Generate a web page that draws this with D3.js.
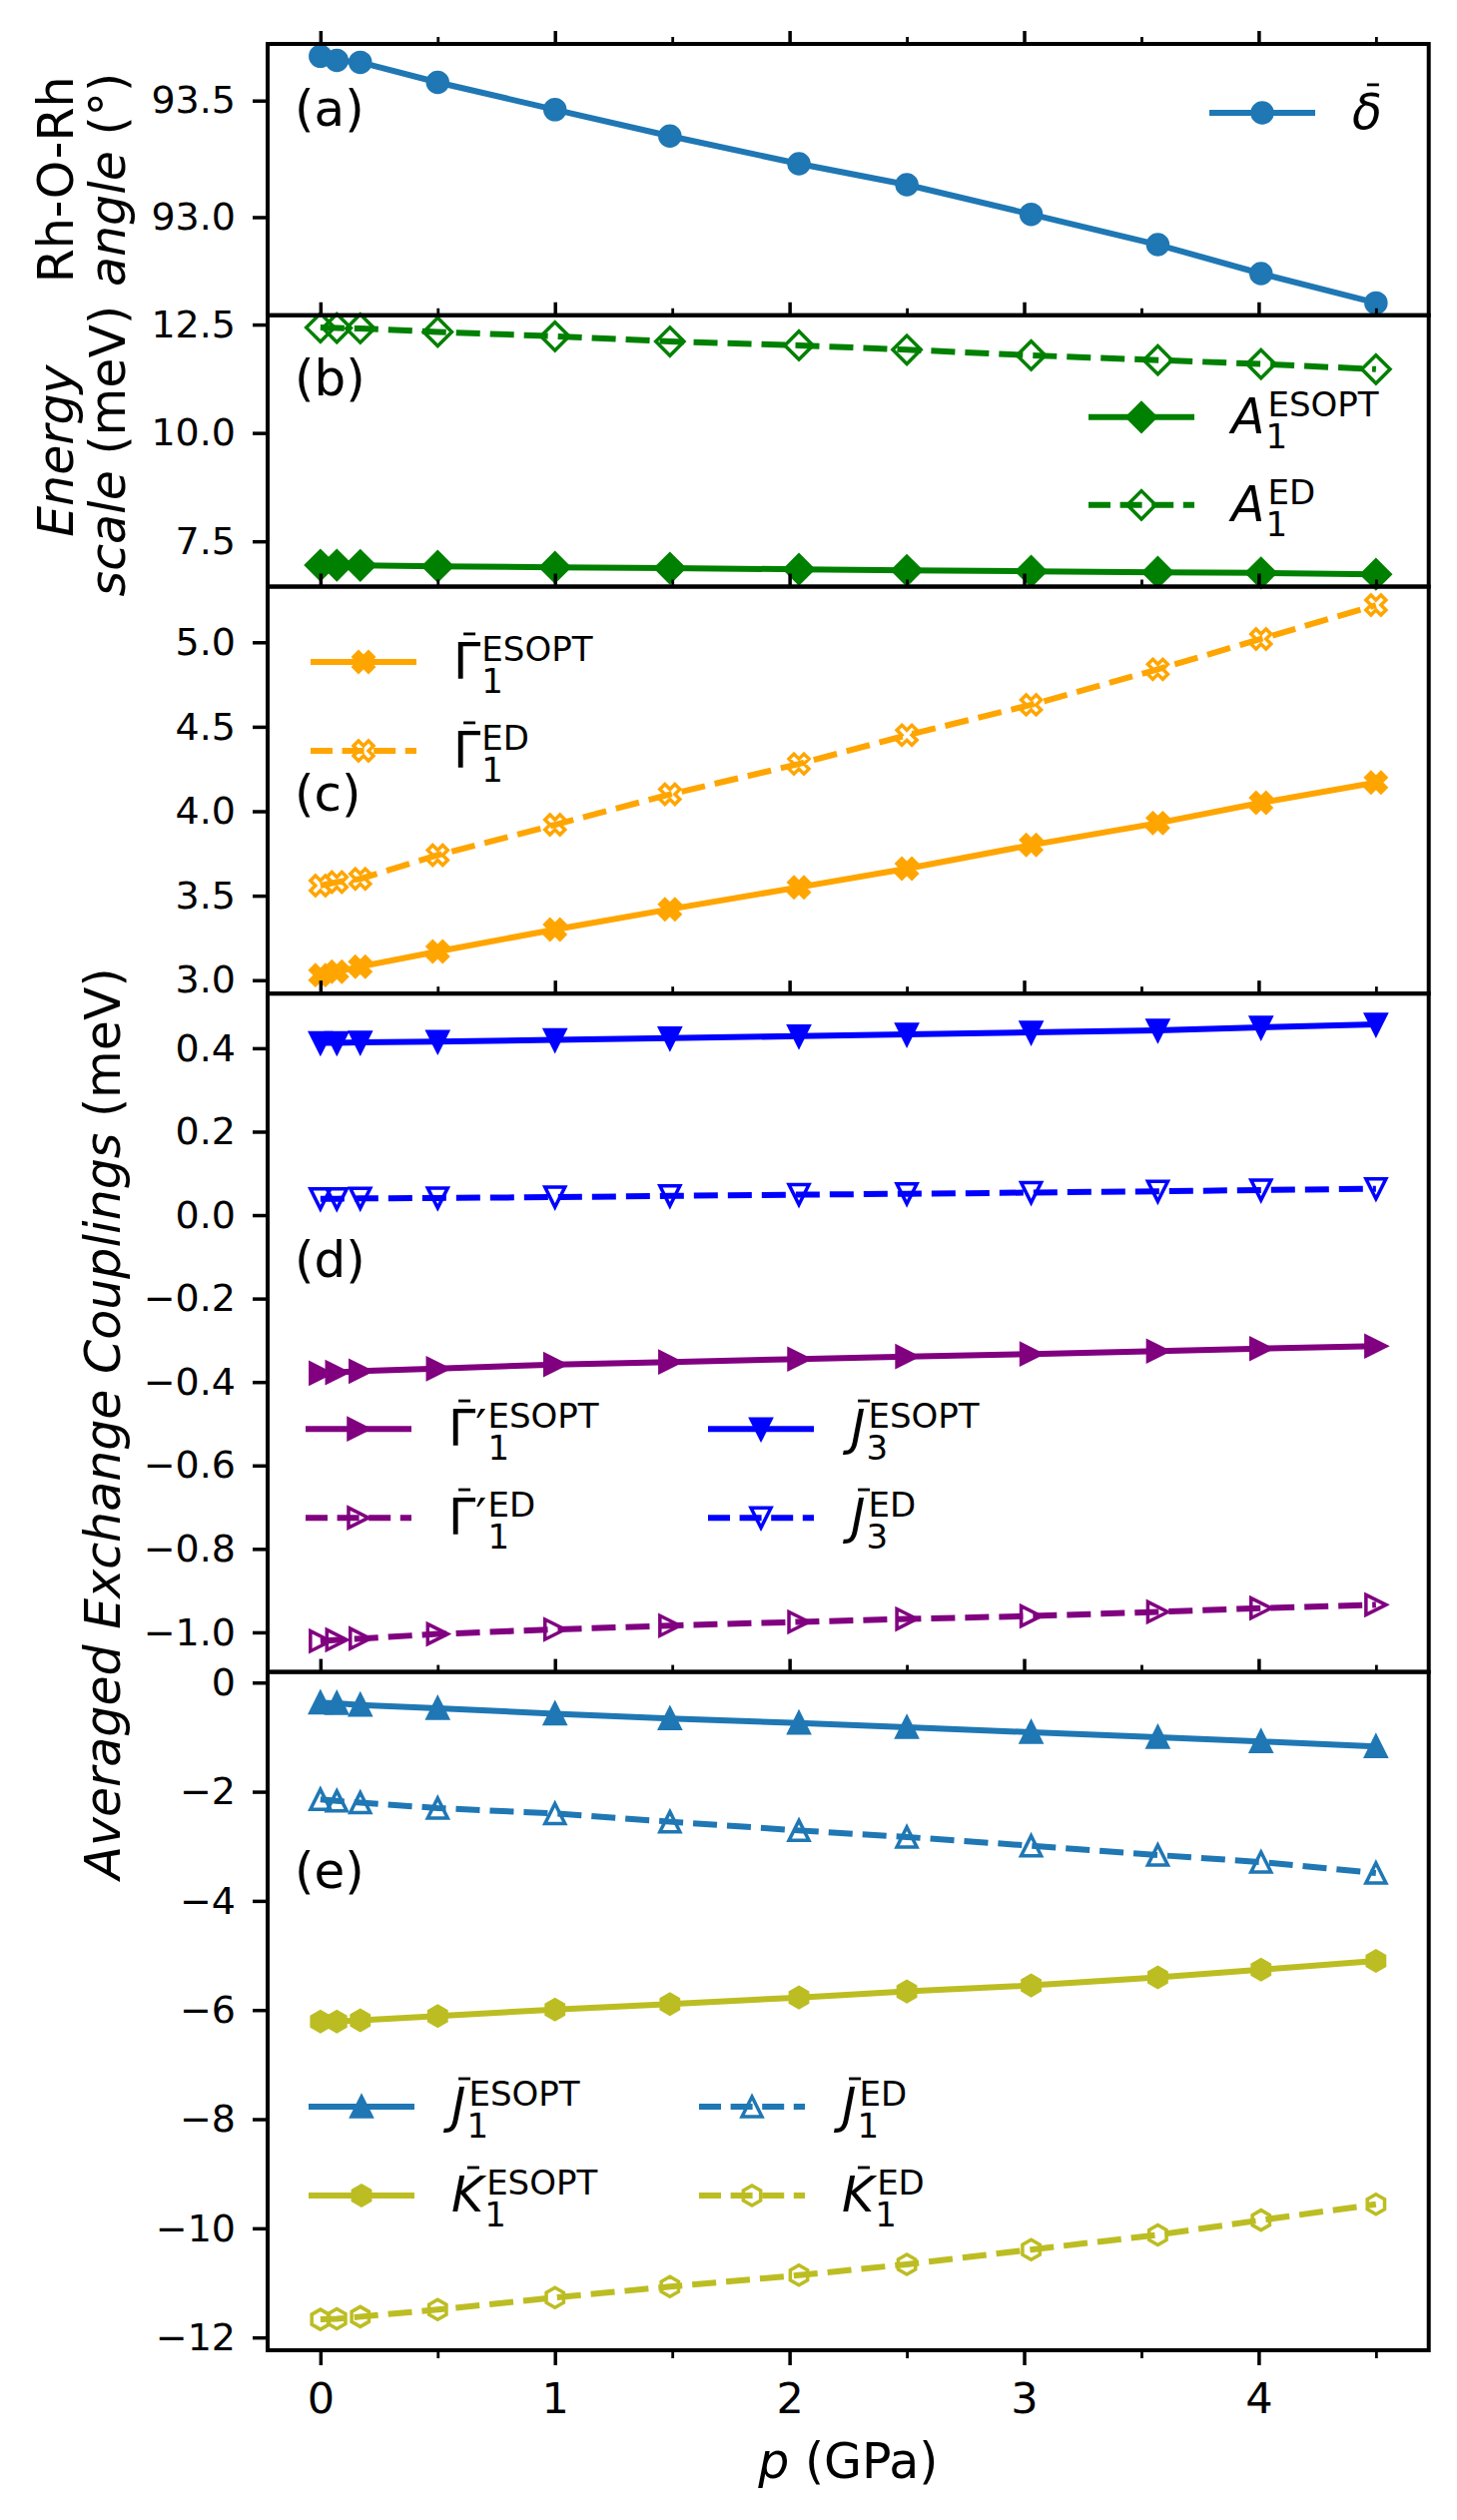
<!DOCTYPE html>
<html>
<head>
<meta charset="utf-8">
<script src="https://cdn.jsdelivr.net/npm/d3@7"></script>
<style>
  body { margin: 0; background: #fff; }
  svg text { font-family: "DejaVu Sans", sans-serif; fill: #000; }
</style>
</head>
<body>
<div id="chart"></div>
<script>
// pressure points (GPa)
const pressure = [0, 0.07, 0.17, 0.5, 1.0, 1.49, 2.04, 2.5, 3.03, 3.57, 4.01, 4.5];

// (a) Rh-O-Rh angle
const deltaBar = [93.690, 93.672, 93.664, 93.578, 93.461, 93.348, 93.229, 93.139, 93.012, 92.882, 92.758, 92.632];

// (b) energy scale
const a1Esopt = [6.95, 6.95, 6.945, 6.925, 6.90, 6.88, 6.855, 6.83, 6.81, 6.785, 6.77, 6.74];
const a1Ed = [12.43, 12.42, 12.41, 12.33, 12.23, 12.11, 12.02, 11.92, 11.79, 11.68, 11.59, 11.47];

// (c)
const gamma1Esopt = [3.03, 3.05, 3.08, 3.17, 3.30, 3.42, 3.55, 3.66, 3.80, 3.93, 4.05, 4.17];
const gamma1Ed = [3.56, 3.58, 3.60, 3.74, 3.92, 4.10, 4.28, 4.45, 4.63, 4.84, 5.02, 5.22];

// (d)
const gammaP1Esopt = [-0.379, -0.377, -0.374, -0.368, -0.358, -0.352, -0.345, -0.339, -0.333, -0.326, -0.320, -0.314];
const gammaP1Ed = [-1.021, -1.018, -1.015, -1.004, -0.993, -0.984, -0.975, -0.968, -0.961, -0.951, -0.942, -0.934];
const j3Esopt = [0.413, 0.413, 0.414, 0.416, 0.420, 0.424, 0.429, 0.433, 0.438, 0.443, 0.450, 0.457];
const j3Ed = [0.039, 0.039, 0.040, 0.041, 0.043, 0.046, 0.049, 0.051, 0.054, 0.057, 0.060, 0.063];

// (e)
const j1Esopt = [-0.37, -0.38, -0.41, -0.47, -0.57, -0.66, -0.74, -0.82, -0.91, -1.00, -1.08, -1.17];
const j1Ed = [-2.14, -2.17, -2.20, -2.30, -2.40, -2.55, -2.71, -2.83, -2.99, -3.16, -3.29, -3.49];
const k1Esopt = [-6.21, -6.21, -6.19, -6.11, -5.99, -5.89, -5.77, -5.66, -5.55, -5.40, -5.26, -5.10];
const k1Ed = [-11.67, -11.66, -11.62, -11.49, -11.27, -11.07, -10.86, -10.66, -10.39, -10.12, -9.85, -9.56];

// ticks
const xTicks = [0, 1, 2, 3, 4];
const xMinorTicks = [0.5, 1.5, 2.5, 3.5, 4.5];
const yTicksA = [93.0, 93.5];
const yTicksB = [7.5, 10.0, 12.5];
const yTicksC = [3.0, 3.5, 4.0, 4.5, 5.0];
const yTicksD = [-1.0, -0.8, -0.6, -0.4, -0.2, 0.0, 0.2, 0.4];
const yTicksE = [-12, -10, -8, -6, -4, -2, 0];

const W = 1459, H = 2524;
const plotLeft = 268, plotRight = 1430.7, plotTop = 44, plotBottom = 2354;
const ratios = [2, 2, 3, 5, 5];
const unit = (plotBottom - plotTop) / d3.sum(ratios);

const FS = 49, FS_SCRIPT = 34, FS_YTICK = 38, FS_XTICK = 43;
const LW = 6, MS = 20, MEW = 3.5;
const DASH = "24,10";

const col = {
  tabBlue: "#1f77b4", green: "#008000", orange: "#ffa500",
  blue: "#0000ff", purple: "#800080", olive: "#bcbd22"
};

function pad(ext) {
  const r = ext[1] - ext[0];
  return [ext[0] - 0.05 * r, ext[1] + 0.05 * r];
}

const panels = [
  {
    tag: "(a)", tagDy: 82, ticks: yTicksA, fmt: d3.format(".1f"),
    series: [
      { key: "delta", values: deltaBar, color: col.tabBlue, marker: "o", filled: true, dashed: false,
        label: { base: "δ", italic: true, bar: true } }
    ],
    legend: [{ x1: 1211, rows: [69], keys: ["delta"] }]
  },
  {
    tag: "(b)", tagDy: 80, ticks: yTicksB, fmt: d3.format(".1f"),
    series: [
      { key: "aes", values: a1Esopt, color: col.green, marker: "D", filled: true, dashed: false,
        label: { base: "A", italic: true, sub: "1", sup: "ESOPT" } },
      { key: "aed", values: a1Ed, color: col.green, marker: "D", filled: false, dashed: true,
        label: { base: "A", italic: true, sub: "1", sup: "ED" } }
    ],
    legend: [{ x1: 1090, rows: [102, 190], keys: ["aes", "aed"] }]
  },
  {
    tag: "(c)", tagDy: 224, ticks: yTicksC, fmt: d3.format(".1f"),
    series: [
      { key: "ges", values: gamma1Esopt, color: col.orange, marker: "X", filled: true, dashed: false,
        label: { base: "Γ", bar: true, sub: "1", sup: "ESOPT" } },
      { key: "ged", values: gamma1Ed, color: col.orange, marker: "X", filled: false, dashed: true,
        label: { base: "Γ", bar: true, sub: "1", sup: "ED" } }
    ],
    legend: [{ x1: 311, rows: [75.5, 164.5], keys: ["ges", "ged"] }]
  },
  {
    tag: "(d)", tagDy: 283.5, ticks: yTicksD, fmt: d3.format(".1f"),
    series: [
      { key: "gpes", values: gammaP1Esopt, color: col.purple, marker: ">", filled: true, dashed: false,
        label: { base: "Γ", bar: true, prime: true, sub: "1", sup: "ESOPT" } },
      { key: "gped", values: gammaP1Ed, color: col.purple, marker: ">", filled: false, dashed: true,
        label: { base: "Γ", bar: true, prime: true, sub: "1", sup: "ED" } },
      { key: "j3es", values: j3Esopt, color: col.blue, marker: "v", filled: true, dashed: false,
        label: { base: "J", italic: true, bar: true, sub: "3", sup: "ESOPT" } },
      { key: "j3ed", values: j3Ed, color: col.blue, marker: "v", filled: false, dashed: true,
        label: { base: "J", italic: true, bar: true, sub: "3", sup: "ED" } }
    ],
    legend: [
      { x1: 306, rows: [436, 525], keys: ["gpes", "gped"] },
      { x1: 709, rows: [436, 525], keys: ["j3es", "j3ed"] }
    ]
  },
  {
    tag: "(e)", tagDy: 216.5, ticks: yTicksE, fmt: d3.format("d"),
    series: [
      { key: "j1es", values: j1Esopt, color: col.tabBlue, marker: "^", filled: true, dashed: false,
        label: { base: "J", italic: true, bar: true, sub: "1", sup: "ESOPT" } },
      { key: "k1es", values: k1Esopt, color: col.olive, marker: "h", filled: true, dashed: false,
        label: { base: "K", italic: true, bar: true, sub: "1", sup: "ESOPT" } },
      { key: "j1ed", values: j1Ed, color: col.tabBlue, marker: "^", filled: false, dashed: true,
        label: { base: "J", italic: true, bar: true, sub: "1", sup: "ED" } },
      { key: "k1ed", values: k1Ed, color: col.olive, marker: "h", filled: false, dashed: true,
        label: { base: "K", italic: true, bar: true, sub: "1", sup: "ED" } }
    ],
    legend: [
      { x1: 309, rows: [435.5, 524.5], keys: ["j1es", "k1es"] },
      { x1: 700, rows: [435.5, 524.5], keys: ["j1ed", "k1ed"] }
    ]
  }
];

function markerPath(type, s) {
  const h = s / 2;
  if (type === "o") return `M${h},0A${h},${h} 0 1,1 ${-h},0A${h},${h} 0 1,1 ${h},0Z`;
  if (type === "D") { const d = s * Math.SQRT1_2; return `M0,${-d}L${d},0L0,${d}L${-d},0Z`; }
  if (type === "^") return `M0,${-h}L${h},${h}L${-h},${h}Z`;
  if (type === "v") return `M0,${h}L${h},${-h}L${-h},${-h}Z`;
  if (type === ">") return `M${h},0L${-h},${h}L${-h},${-h}Z`;
  if (type === "h") {
    const pts = d3.range(6).map(k => {
      const a = -Math.PI / 2 + k * Math.PI / 3;
      return [h * Math.cos(a), h * Math.sin(a)];
    });
    return "M" + pts.map(p => p.join(",")).join("L") + "Z";
  }
  if (type === "X") {
    const u = s / 4;
    const pts = [[-1, -2], [0, -1], [1, -2], [2, -1], [1, 0], [2, 1], [1, 2], [0, 1], [-1, 2], [-2, 1], [-1, 0], [-2, -1]];
    return "M" + pts.map(p => [p[0] * u, p[1] * u].join(",")).join("L") + "Z";
  }
}

function drawMarker(g, s, cx, cy) {
  g.append("path")
    .attr("d", markerPath(s.marker, MS))
    .attr("transform", `translate(${cx},${cy})`)
    .attr("fill", s.filled ? s.color : "none")
    .attr("stroke", s.color)
    .attr("stroke-width", MEW)
    .attr("stroke-linejoin", "miter");
}

// base glyph with optional bar/prime and stacked sub/superscript, as one text element
function drawMathLabel(g, x0, y0, lab) {
  const t = g.append("text")
    .attr("x", x0).attr("y", y0)
    .style("font-size", FS + "px");
  const base = t.append("tspan")
    .style("font-style", lab.italic ? "italic" : "normal")
    .text(lab.base);
  const bw = base.node().getComputedTextLength();
  if (lab.bar) {
    const mid = x0 + bw / 2 + (lab.italic ? FS * 0.12 : FS * 0.05);
    g.append("line")
      .attr("x1", mid - 6).attr("x2", mid + 6)
      .attr("y1", y0 - FS * 0.9).attr("y2", y0 - FS * 0.9)
      .attr("stroke", "#000").attr("stroke-width", 2.8);
  }
  let cx = x0 + bw;
  if (lab.prime) {
    const p = t.append("tspan").text("′");
    cx += p.node().getComputedTextLength();
  }
  if (lab.sup) {
    t.append("tspan")
      .attr("x", cx + (lab.italic ? 3 : 1)).attr("dy", -17)
      .style("font-size", FS_SCRIPT + "px").text(lab.sup);
  }
  if (lab.sub) {
    t.append("tspan")
      .attr("x", cx + 1).attr("dy", lab.sup ? 32 : 15)
      .style("font-size", FS_SCRIPT + "px").text(lab.sub);
  }
}

const svg = d3.select("#chart").append("svg")
  .attr("width", W).attr("height", H)
  .attr("viewBox", `0 0 ${W} ${H}`);

svg.append("rect").attr("width", W).attr("height", H).attr("fill", "#fff");

const x = d3.scaleLinear().domain(pad(d3.extent(pressure))).range([plotLeft, plotRight]);

let yCursor = plotTop;
panels.forEach((p, i) => {
  const h = ratios[i] * unit;
  p.top = yCursor;
  p.bottom = yCursor + h;
  yCursor += h;

  const all = p.series.flatMap(s => s.values);
  const y = d3.scaleLinear().domain(pad(d3.extent(all))).range([p.bottom, p.top]);

  const g = svg.append("g");

  // series
  const line = d3.line().x(d => x(d[0])).y(d => y(d[1]));
  p.series.forEach(s => {
    const pts = pressure.map((pv, k) => [pv, s.values[k]]);
    g.append("path")
      .attr("d", line(pts))
      .attr("fill", "none")
      .attr("stroke", s.color)
      .attr("stroke-width", LW)
      .attr("stroke-dasharray", s.dashed ? DASH : null);
    pts.forEach(d => drawMarker(g, s, x(d[0]), y(d[1])));
  });

  // y axis
  const ya = svg.append("g")
    .attr("transform", `translate(${plotLeft},0)`)
    .call(d3.axisLeft(y).tickValues(p.ticks).tickFormat(p.fmt).tickSize(15).tickPadding(17));
  ya.select(".domain").remove();
  ya.selectAll(".tick line").attr("stroke", "#000").attr("stroke-width", 3.5);
  ya.selectAll(".tick text").style("font-size", FS_YTICK + "px").attr("fill", "#000")
    .style("font-family", '"DejaVu Sans", sans-serif');

  // top ticks pointing out
  const ta = svg.append("g").attr("transform", `translate(0,${p.top})`)
    .call(d3.axisTop(x).tickValues(xTicks).tickSize(13).tickFormat(""));
  ta.select(".domain").remove();
  ta.selectAll(".tick line").attr("stroke", "#000").attr("stroke-width", 3.5);
  const tm = svg.append("g").attr("transform", `translate(0,${p.top})`)
    .call(d3.axisTop(x).tickValues(xMinorTicks).tickSize(7).tickFormat(""));
  tm.select(".domain").remove();
  tm.selectAll(".tick line").attr("stroke", "#000").attr("stroke-width", 2.8);

  // panel tag
  svg.append("text")
    .attr("x", 295).attr("y", p.top + p.tagDy)
    .style("font-size", "50px")
    .text(p.tag);

  // legend
  const lg = svg.append("g");
  p.legend.forEach(lc => {
    lc.keys.forEach((k, r) => {
      const s = p.series.find(d => d.key === k);
      const ly = p.top + lc.rows[r];
      const x2 = lc.x1 + 106;
      lg.append("line")
        .attr("x1", lc.x1).attr("x2", x2)
        .attr("y1", ly).attr("y2", ly)
        .attr("stroke", s.color).attr("stroke-width", LW)
        .attr("stroke-dasharray", s.dashed ? "22,9.6" : null);
      drawMarker(lg, s, (lc.x1 + x2) / 2, ly);
      drawMathLabel(lg, x2 + 37, ly + 16, s.label);
    });
  });

  // frame
  svg.append("rect")
    .attr("x", plotLeft).attr("y", p.top)
    .attr("width", plotRight - plotLeft).attr("height", h)
    .attr("fill", "none").attr("stroke", "#000").attr("stroke-width", 4);
});

// bottom x axis
const xb = svg.append("g").attr("transform", `translate(0,${plotBottom})`)
  .call(d3.axisBottom(x).tickValues(xTicks).tickFormat(d3.format("d")).tickSize(15).tickPadding(17));
xb.select(".domain").remove();
xb.selectAll(".tick line").attr("stroke", "#000").attr("stroke-width", 3.5);
xb.selectAll(".tick text").style("font-size", FS_XTICK + "px").attr("fill", "#000")
  .style("font-family", '"DejaVu Sans", sans-serif');
const xbm = svg.append("g").attr("transform", `translate(0,${plotBottom})`)
  .call(d3.axisBottom(x).tickValues(xMinorTicks).tickSize(8).tickFormat(""));
xbm.select(".domain").remove();
xbm.selectAll(".tick line").attr("stroke", "#000").attr("stroke-width", 2.8);

// x label
const xl = svg.append("text")
  .attr("x", (plotLeft + plotRight) / 2).attr("y", 2482)
  .attr("text-anchor", "middle")
  .style("font-size", FS + "px");
xl.append("tspan").style("font-style", "italic").text("p");
xl.append("tspan").text(" (GPa)");

// y labels
function yLabel(lines, cy) {
  lines.forEach(ln => {
    const t = svg.append("text")
      .attr("transform", `translate(${ln.x},${cy}) rotate(-90)`)
      .attr("text-anchor", "middle")
      .style("font-size", FS + "px");
    ln.parts.forEach(pt => t.append("tspan").style("font-style", pt.it ? "italic" : "normal").text(pt.t));
  });
}
yLabel([
  { x: 73, parts: [{ t: "Rh-O-Rh" }] },
  { x: 125, parts: [{ t: "angle", it: true }, { t: " (°)" }] }
], (panels[0].top + panels[0].bottom) / 2);
yLabel([
  { x: 73, parts: [{ t: "Energy", it: true }] },
  { x: 125, parts: [{ t: "scale", it: true }, { t: " (meV)" }] }
], (panels[1].top + panels[1].bottom) / 2);
yLabel([
  { x: 120, parts: [{ t: "Averaged Exchange Couplings", it: true }, { t: " (meV)" }] }
], 1426);
</script>
</body>
</html>
